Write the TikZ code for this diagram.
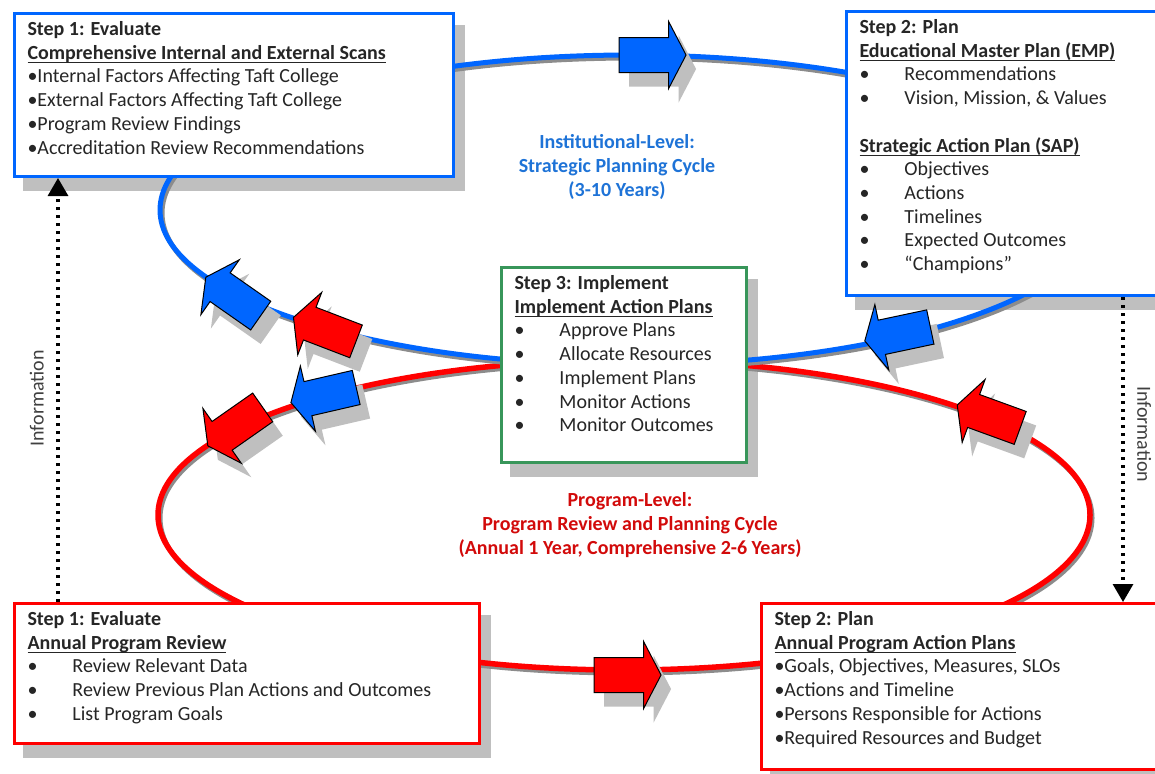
\documentclass[tikz,border=0pt]{standalone}
\usepackage{fontspec}
\setmainfont{Carlito}
\usepackage{tikz}
\usetikzlibrary{arrows.meta,shapes.arrows,shadows,positioning}
\definecolor{tcblue}{RGB}{0,102,255}
\definecolor{tcred}{RGB}{255,0,0}
\definecolor{tcgreen}{RGB}{56,150,90}
\definecolor{lblblue}{RGB}{30,115,215}
\definecolor{lblred}{RGB}{210,10,10}
\pgfdeclarelayer{back}
\pgfsetlayers{back,main}
\newcommand{\tabbullet}{\makebox[22.5pt][l]{\textbullet}}
\newcommand{\boxbody}[3]{\parbox[t][#2][t]{#1}{\raggedright #3}}
\newcommand{\ulhead}[1]{\leavevmode\setbox0\hbox{\textbf{#1}}\rlap{\rule[-1.8pt]{\wd0}{0.5pt}}\box0}

\begin{document}
\begin{tikzpicture}[
  x=0.5pt, y=-0.5pt,
  every node/.style={font=\fontsize{10}{11.85}\selectfont},
  stepbox/.style={draw, line width=1.5pt, fill=white, anchor=north west,
                  inner xsep=6.5pt, inner ysep=4pt, text=black!85},
  instbox/.style={stepbox, draw=tcblue},
  progbox/.style={stepbox, draw=tcred},
  implbox/.style={stepbox, draw=tcgreen},
  boxshadow/.style={fill=black!25},
  flow/.style={single arrow, draw=black, line width=0.5pt,
               inner xsep=0pt, inner ysep=8.5pt, minimum height=33.5pt,
               single arrow head extend=8pt, single arrow tip angle=125,
               drop shadow={shadow xshift=5pt, shadow yshift=-7pt,
                            fill=black!25, opacity=1}},
  instloop/.style={draw=tcblue, line width=2.5pt},
  progloop/.style={draw=tcred, line width=2.75pt},
  loopshade/.style={draw=black!45, line width=2.5pt, shift={(2,3)}},
  infoline/.style={line width=1.6pt, dash pattern=on 1.6pt off 2.4pt,
                   -{Triangle[width=10pt,length=9pt]}},
  infotext/.style={text=black!75, above=3pt, sloped},
  looplabel/.style={align=center, font=\fontsize{10}{11.85}\selectfont\bfseries},
]
\useasboundingbox (0,0) rectangle (1155,773);

%% -- cycles ------------------------------------------------------------
\draw[loopshade] (624,515) ellipse [x radius=466, y radius=155];
\draw[progloop]  (624,515) ellipse [x radius=466, y radius=155];
\draw[loopshade] (630,210) ellipse [x radius=470, y radius=155];
\draw[instloop]  (630,210) ellipse [x radius=470, y radius=155];

%% -- institutional level -------------------------------------------------
\node[instbox] (instEval) at (13,12) {\boxbody{206.5pt}{73.5pt}{%
  \textbf{Step 1: Evaluate}\\
  \ulhead{Comprehensive Internal and External Scans}\\
  •Internal Factors Affecting Taft College\\
  •External Factors Affecting Taft College\\
  •Program Review Findings\\
  •Accreditation Review Recommendations}};

\node[instbox] (instPlan) at (845,10) {\boxbody{148pt}{134pt}{%
  \textbf{Step 2: Plan}\\
  \ulhead{Educational Master Plan (EMP)}\\
  \tabbullet Recommendations\\
  \tabbullet Vision, Mission, \& Values\\[11.85pt]
  \ulhead{Strategic Action Plan (SAP)}\\
  \tabbullet Objectives\\
  \tabbullet Actions\\
  \tabbullet Timelines\\
  \tabbullet Expected Outcomes\\
  \tabbullet “Champions”}};

%% -- implementation ------------------------------------------------------
\node[implbox] (implement) at (500,266) {\boxbody{109.5pt}{89.5pt}{%
  \textbf{Step 3: Implement}\\
  \ulhead{Implement Action Plans}\\
  \tabbullet Approve Plans\\
  \tabbullet Allocate Resources\\
  \tabbullet Implement Plans\\
  \tabbullet Monitor Actions\\
  \tabbullet Monitor Outcomes}};

%% -- program level -------------------------------------------------------
\node[progbox] (progEval) at (13,602) {\boxbody{219.5pt}{62pt}{%
  \textbf{Step 1: Evaluate}\\
  \ulhead{Annual Program Review}\\
  \tabbullet Review Relevant Data\\
  \tabbullet Review Previous Plan Actions and Outcomes\\
  \tabbullet List Program Goals}};

\node[progbox] (progPlan) at (760,602) {\boxbody{190pt}{75pt}{%
  \textbf{Step 2: Plan}\\
  \ulhead{Annual Program Action Plans}\\
  •Goals, Objectives, Measures, SLOs\\
  •Actions and Timeline\\
  •Persons Responsible for Actions\\
  •Required Resources and Budget}};

% box shadows behind the cycles
\begin{pgfonlayer}{back}
\foreach \b in {instEval,instPlan,implement,progEval,progPlan}
  \fill[boxshadow] ([xshift=5pt,yshift=-6.5pt]\b.north west)
    rectangle ([xshift=5pt,yshift=-6.5pt]\b.south east);
\end{pgfonlayer}

%% -- flow arrows on the cycles -------------------------------------------
\node[flow, fill=tcblue]             (instTop)    at (648,55)  {};
\node[flow, fill=tcblue, rotate=192] (instRight)  at (902,333) {};
\node[flow, fill=tcblue, rotate=145] (instLeft)   at (237,299) {};
\node[flow, fill=tcred,  rotate=159] (progUpper)  at (329,331) {};
\node[flow, fill=tcblue, rotate=193] (instLower)  at (328,394) {};
\node[flow, fill=tcred,  rotate=215] (progLeft)   at (239,424) {};
\node[flow, fill=tcred,  rotate=160] (progRight)  at (993,418) {};
\node[flow, fill=tcred]              (progBottom) at (623,675) {};

%% -- cycle labels --------------------------------------------------------
\node[looplabel, text=lblblue] (instLabel) at (617,167)
  {Institutional-Level:\\Strategic Planning Cycle\\(3-10 Years)};
\node[looplabel, text=lblred] (progLabel) at (630,525)
  {Program-Level:\\Program Review and Planning Cycle\\(Annual 1 Year, Comprehensive 2-6 Years)};

%% -- information flow ----------------------------------------------------
\coordinate (infoBottom) at ([xshift=22.5pt]progEval.north west);
\draw[infoline] (infoBottom) -- (infoBottom |- instEval.south)
  node[infotext, pos=0.48] (infoLeft) {Information};

\coordinate (infoTop) at ([xshift=139pt]instPlan.south west);
\draw[infoline] (infoTop) -- (infoTop |- progPlan.north)
  node[infotext, pos=0.45] (infoRight) {Information};

\end{tikzpicture}
\end{document}
